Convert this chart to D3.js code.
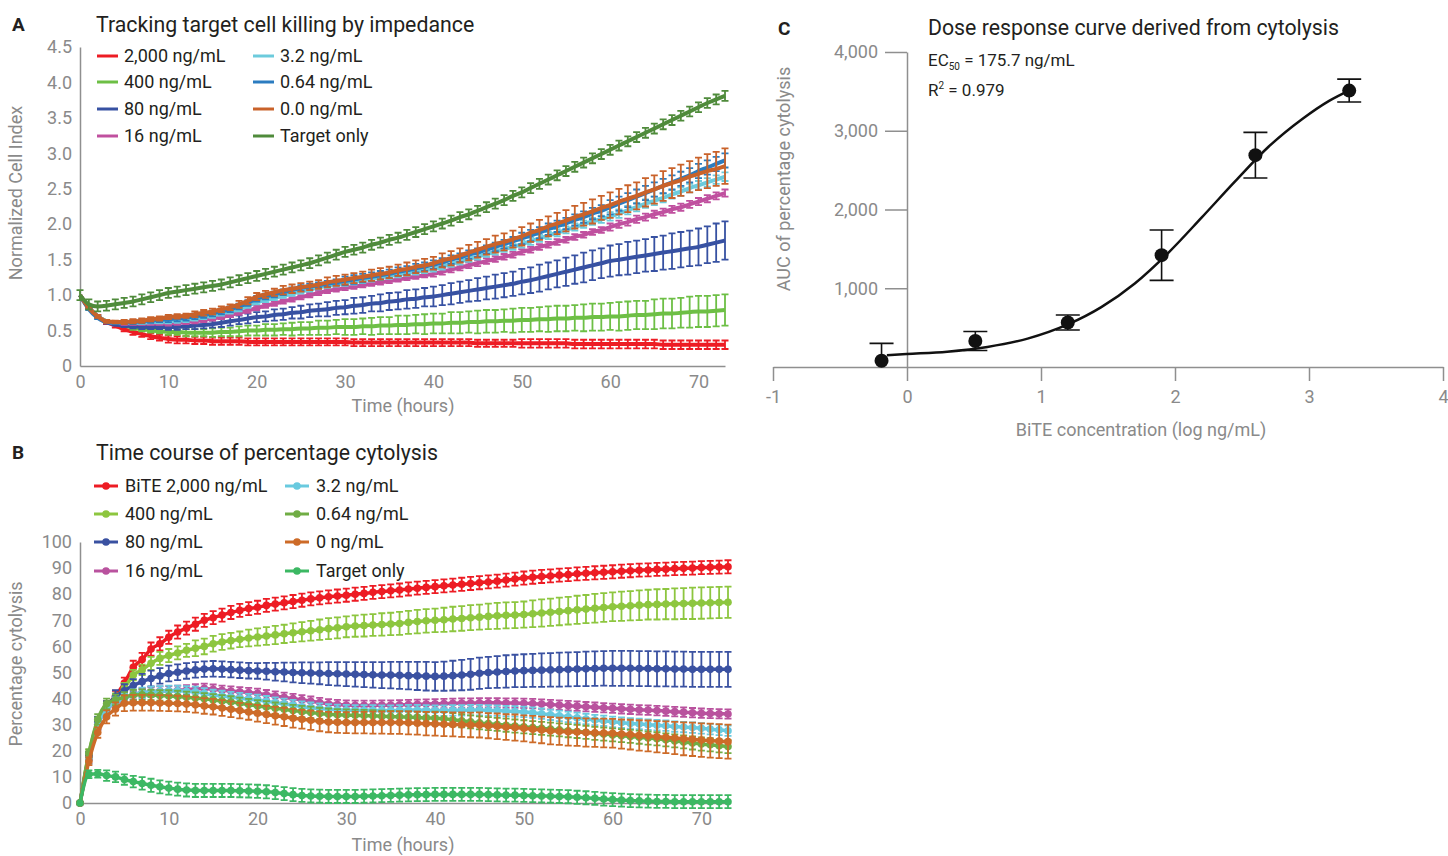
<!DOCTYPE html>
<meta charset="utf-8">
<head>
    <title>BiTE cytolysis panels</title>
    <style>
      body { margin: 0; background: #fff; }
      text { font-family: Roboto, "Noto Sans", sans-serif; }
    </style>
</head>
<!-- Load d3.js -->
<script src="https://d3js.org/d3.v7.min.js"></script>

<div id="my_dataviz"></div>
<script>

// ---------- data ----------
// time points in hours (shared by panel A and B)
var hours = [0,1,2,3,4,5,6,7,8,9,
  10,11,12,13,14,15,16,17,18,19,
  20,21,22,23,24,25,26,27,28,29,
  30,31,32,33,34,35,36,37,38,39,
  40,41,42,43,44,45,46,47,48,49,
  50,51,52,53,54,55,56,57,58,59,
  60,61,62,63,64,65,66,67,68,69,
  70,71,72,73];

// panel A : normalized cell index
var labelsA = ["2,000 ng/mL","400 ng/mL","80 ng/mL","16 ng/mL","3.2 ng/mL","0.64 ng/mL","0.0 ng/mL","Target only"];
var ciA2000 = [1.00,0.82,0.70,0.62,0.57,0.52,0.48,0.45,0.42,0.40,
  0.38,0.37,0.37,0.36,0.36,0.35,0.35,0.35,0.35,0.34,
  0.34,0.34,0.34,0.34,0.34,0.34,0.34,0.34,0.34,0.34,
  0.34,0.33,0.33,0.33,0.33,0.33,0.33,0.33,0.33,0.33,
  0.33,0.33,0.33,0.33,0.33,0.32,0.32,0.32,0.32,0.32,
  0.32,0.32,0.32,0.32,0.32,0.32,0.31,0.31,0.31,0.31,
  0.31,0.31,0.31,0.31,0.31,0.31,0.30,0.30,0.30,0.30,
  0.30,0.30,0.30,0.30];
var ciA400 = [1.00,0.82,0.70,0.63,0.60,0.57,0.54,0.52,0.50,0.49,
  0.48,0.48,0.47,0.47,0.47,0.47,0.48,0.48,0.49,0.50,
  0.50,0.51,0.51,0.52,0.52,0.53,0.53,0.54,0.54,0.55,
  0.55,0.55,0.56,0.56,0.57,0.57,0.58,0.58,0.59,0.59,
  0.60,0.60,0.61,0.61,0.62,0.62,0.63,0.63,0.64,0.64,
  0.65,0.65,0.66,0.66,0.67,0.67,0.68,0.68,0.69,0.69,
  0.70,0.70,0.71,0.72,0.72,0.73,0.74,0.74,0.75,0.76,
  0.77,0.77,0.78,0.79];
var ciA80 = [1.00,0.82,0.70,0.62,0.59,0.57,0.56,0.55,0.55,0.55,
  0.55,0.55,0.56,0.57,0.58,0.59,0.61,0.63,0.65,0.67,
  0.69,0.70,0.72,0.73,0.75,0.76,0.78,0.79,0.80,0.82,
  0.83,0.85,0.86,0.88,0.89,0.91,0.92,0.94,0.95,0.97,
  0.98,1.00,1.02,1.04,1.06,1.08,1.10,1.12,1.14,1.16,
  1.19,1.21,1.24,1.27,1.30,1.33,1.36,1.39,1.42,1.45,
  1.48,1.50,1.52,1.54,1.56,1.58,1.60,1.62,1.64,1.66,
  1.68,1.71,1.74,1.77];
var ciA16 = [1.00,0.82,0.70,0.63,0.61,0.60,0.60,0.60,0.60,0.60,
  0.60,0.61,0.62,0.63,0.65,0.67,0.69,0.72,0.75,0.78,
  0.82,0.85,0.88,0.91,0.94,0.97,1.00,1.03,1.06,1.08,
  1.10,1.12,1.14,1.16,1.18,1.20,1.22,1.24,1.26,1.28,
  1.30,1.33,1.36,1.39,1.42,1.45,1.48,1.51,1.54,1.57,
  1.61,1.64,1.68,1.71,1.75,1.78,1.82,1.85,1.89,1.92,
  1.96,2.00,2.03,2.07,2.10,2.14,2.17,2.21,2.24,2.28,
  2.32,2.36,2.40,2.44];
var ciA3 = [1.00,0.82,0.70,0.63,0.61,0.61,0.61,0.61,0.62,0.62,
  0.63,0.64,0.65,0.67,0.69,0.71,0.74,0.77,0.80,0.85,
  0.90,0.93,0.96,0.99,1.02,1.05,1.08,1.11,1.13,1.15,
  1.17,1.19,1.21,1.23,1.25,1.27,1.29,1.31,1.33,1.35,
  1.37,1.40,1.44,1.47,1.51,1.54,1.58,1.61,1.65,1.68,
  1.72,1.76,1.80,1.84,1.88,1.92,1.96,2.00,2.04,2.07,
  2.11,2.15,2.20,2.24,2.29,2.33,2.37,2.42,2.46,2.51,
  2.55,2.59,2.63,2.67];
var ciA064 = [1.00,0.80,0.68,0.62,0.61,0.61,0.62,0.63,0.64,0.65,
  0.66,0.67,0.68,0.70,0.72,0.74,0.77,0.80,0.84,0.89,
  0.95,0.98,1.01,1.04,1.07,1.10,1.12,1.14,1.16,1.18,
  1.20,1.22,1.24,1.26,1.28,1.30,1.33,1.35,1.38,1.40,
  1.43,1.46,1.50,1.53,1.57,1.60,1.64,1.68,1.72,1.76,
  1.80,1.84,1.88,1.93,1.97,2.01,2.06,2.10,2.15,2.19,
  2.24,2.29,2.34,2.39,2.44,2.49,2.54,2.59,2.64,2.69,
  2.75,2.80,2.85,2.90];
var ciA0 = [1.00,0.82,0.70,0.63,0.62,0.62,0.63,0.64,0.66,0.67,
  0.69,0.70,0.71,0.73,0.75,0.77,0.80,0.83,0.87,0.92,
  0.98,1.01,1.04,1.07,1.09,1.11,1.13,1.15,1.18,1.20,
  1.22,1.24,1.26,1.28,1.30,1.32,1.35,1.37,1.40,1.42,
  1.45,1.49,1.52,1.56,1.60,1.64,1.68,1.72,1.75,1.79,
  1.83,1.88,1.92,1.97,2.01,2.05,2.10,2.14,2.18,2.23,
  2.27,2.32,2.36,2.40,2.45,2.49,2.54,2.58,2.62,2.67,
  2.71,2.75,2.78,2.82];
var ciATarget = [1.00,0.87,0.84,0.85,0.87,0.89,0.91,0.94,0.97,1.00,
  1.03,1.05,1.07,1.09,1.11,1.13,1.15,1.18,1.21,1.24,
  1.27,1.30,1.33,1.36,1.39,1.42,1.45,1.49,1.53,1.57,
  1.61,1.64,1.67,1.71,1.74,1.78,1.81,1.85,1.89,1.93,
  1.97,2.01,2.05,2.10,2.14,2.19,2.24,2.29,2.34,2.40,
  2.45,2.51,2.57,2.63,2.69,2.75,2.81,2.87,2.93,2.99,
  3.05,3.11,3.17,3.23,3.29,3.35,3.41,3.47,3.53,3.59,
  3.65,3.71,3.76,3.81];

// panel A : error (half width)
var errA2000 = [0.00,0.02,0.02,0.03,0.03,0.03,0.04,0.04,0.04,0.04,
  0.05,0.05,0.05,0.05,0.05,0.05,0.05,0.05,0.05,0.05,
  0.05,0.05,0.05,0.05,0.05,0.05,0.05,0.05,0.05,0.05,
  0.05,0.05,0.05,0.05,0.05,0.05,0.05,0.05,0.05,0.05,
  0.05,0.05,0.05,0.05,0.05,0.05,0.05,0.05,0.05,0.05,
  0.06,0.06,0.06,0.06,0.06,0.06,0.06,0.06,0.06,0.06,
  0.06,0.06,0.06,0.06,0.06,0.06,0.06,0.06,0.06,0.06,
  0.06,0.06,0.06,0.06];
var errA400 = [0.00,0.01,0.01,0.02,0.02,0.02,0.03,0.03,0.03,0.03,
  0.04,0.04,0.05,0.05,0.05,0.06,0.06,0.06,0.07,0.07,
  0.07,0.08,0.08,0.08,0.09,0.09,0.09,0.10,0.10,0.10,
  0.11,0.11,0.11,0.12,0.12,0.12,0.13,0.13,0.13,0.14,
  0.14,0.14,0.15,0.15,0.15,0.16,0.16,0.16,0.16,0.17,
  0.17,0.17,0.17,0.18,0.18,0.18,0.18,0.19,0.19,0.19,
  0.19,0.20,0.20,0.20,0.20,0.21,0.21,0.21,0.21,0.22,
  0.22,0.22,0.22,0.22];
var errA80 = [0.00,0.01,0.01,0.02,0.02,0.02,0.03,0.03,0.03,0.03,
  0.04,0.04,0.04,0.05,0.05,0.05,0.06,0.06,0.06,0.07,
  0.07,0.07,0.08,0.08,0.08,0.09,0.09,0.09,0.10,0.10,
  0.10,0.11,0.11,0.11,0.12,0.12,0.12,0.13,0.13,0.13,
  0.14,0.14,0.15,0.15,0.15,0.16,0.16,0.17,0.17,0.17,
  0.18,0.18,0.19,0.19,0.19,0.20,0.20,0.21,0.21,0.21,
  0.22,0.22,0.23,0.23,0.23,0.24,0.24,0.25,0.25,0.25,
  0.26,0.26,0.27,0.27];
var errA16 = [0.00,0.01,0.02,0.02,0.02,0.02,0.02,0.02,0.02,0.02,
  0.03,0.03,0.03,0.03,0.03,0.03,0.03,0.03,0.03,0.03,
  0.03,0.03,0.03,0.03,0.03,0.03,0.03,0.03,0.03,0.03,
  0.03,0.03,0.03,0.03,0.03,0.03,0.03,0.03,0.03,0.03,
  0.04,0.04,0.04,0.04,0.04,0.04,0.04,0.04,0.04,0.04,
  0.04,0.04,0.04,0.04,0.04,0.04,0.04,0.04,0.04,0.04,
  0.05,0.05,0.05,0.05,0.05,0.05,0.05,0.05,0.05,0.05,
  0.05,0.05,0.05,0.05];
var errA3 = [0.00,0.01,0.02,0.02,0.02,0.02,0.02,0.02,0.02,0.02,
  0.03,0.03,0.03,0.03,0.03,0.03,0.03,0.03,0.03,0.03,
  0.03,0.03,0.03,0.03,0.03,0.03,0.03,0.03,0.03,0.03,
  0.04,0.04,0.04,0.04,0.04,0.04,0.04,0.04,0.04,0.04,
  0.04,0.04,0.04,0.04,0.04,0.04,0.04,0.04,0.04,0.04,
  0.05,0.05,0.05,0.05,0.05,0.05,0.05,0.05,0.05,0.05,
  0.06,0.06,0.06,0.06,0.06,0.06,0.06,0.06,0.06,0.06,
  0.06,0.06,0.06,0.06];
var errA064 = [0.00,0.01,0.02,0.02,0.02,0.02,0.03,0.03,0.03,0.03,
  0.04,0.04,0.04,0.04,0.04,0.04,0.04,0.04,0.04,0.04,
  0.04,0.04,0.04,0.04,0.04,0.04,0.04,0.04,0.04,0.04,
  0.06,0.06,0.06,0.06,0.06,0.06,0.06,0.06,0.06,0.06,
  0.06,0.06,0.06,0.06,0.06,0.06,0.06,0.06,0.06,0.06,
  0.08,0.08,0.08,0.08,0.08,0.08,0.08,0.08,0.08,0.08,
  0.10,0.10,0.10,0.10,0.10,0.10,0.10,0.10,0.10,0.10,
  0.10,0.10,0.10,0.10];
var errA0 = [0.00,0.01,0.02,0.02,0.02,0.03,0.03,0.03,0.03,0.03,
  0.03,0.03,0.03,0.04,0.04,0.04,0.04,0.04,0.05,0.05,
  0.05,0.05,0.05,0.06,0.06,0.06,0.06,0.06,0.07,0.07,
  0.07,0.07,0.07,0.08,0.08,0.08,0.08,0.09,0.09,0.09,
  0.09,0.10,0.10,0.10,0.11,0.11,0.11,0.12,0.12,0.12,
  0.13,0.13,0.14,0.14,0.15,0.15,0.16,0.16,0.17,0.17,
  0.18,0.18,0.19,0.19,0.20,0.20,0.21,0.21,0.22,0.22,
  0.23,0.24,0.24,0.25];
var errATarget = [0.07,0.07,0.07,0.07,0.07,0.07,0.07,0.07,0.07,0.07,
  0.07,0.07,0.07,0.07,0.07,0.07,0.07,0.07,0.07,0.07,
  0.07,0.07,0.07,0.07,0.07,0.07,0.07,0.07,0.07,0.07,
  0.07,0.07,0.07,0.07,0.07,0.07,0.07,0.07,0.07,0.07,
  0.07,0.07,0.07,0.07,0.07,0.07,0.07,0.07,0.07,0.07,
  0.07,0.07,0.07,0.07,0.07,0.07,0.07,0.07,0.07,0.07,
  0.07,0.07,0.07,0.07,0.07,0.07,0.07,0.07,0.07,0.07,
  0.07,0.07,0.07,0.07];

// panel B : percentage cytolysis
var labelsB = ["BiTE 2,000 ng/mL","400 ng/mL","80 ng/mL","16 ng/mL","3.2 ng/mL","0.64 ng/mL","0 ng/mL","Target only"];
var cyB2000 = [0,18,30,37,41,46,52,55,59,61,
  63.5,65.5,67,68.5,70,71,72,73,73.8,74.5,
  75,75.7,76.2,76.7,77.2,77.7,78.2,78.6,79,79.3,
  79.6,80,80.3,80.7,81,81.3,81.6,82,82.3,82.6,
  82.9,83.2,83.5,83.8,84.1,84.4,84.7,85,85.4,85.8,
  86.2,86.5,86.8,87,87.3,87.5,87.8,88,88.2,88.4,
  88.6,88.8,89,89.2,89.3,89.5,89.6,89.8,89.9,90,
  90.2,90.3,90.4,90.5];
var cyB400 = [0,19,31,37,40,44,49,51,53.5,55.4,
  56.5,57.5,58.5,59.3,60,61,61.7,62.2,62.7,63.2,
  63.6,64,64.4,64.8,65.2,65.6,66,66.4,66.8,67.1,
  67.5,67.8,68,68.2,68.4,68.6,68.8,69.2,69.5,69.8,
  70,70.2,70.5,70.7,71,71.2,71.5,71.7,71.9,72,
  72.2,72.5,72.8,73.1,73.4,73.7,74,74.3,74.6,74.9,
  75.2,75.4,75.6,75.8,76,76.1,76.2,76.3,76.4,76.5,
  76.6,76.7,76.8,76.9];
var cyB80 = [0,18,31,37,40.7,43,45,46.5,47.7,48.7,
  49.6,50.1,50.6,51,51.3,51.4,51.3,51.1,50.9,50.7,
  50.6,50.5,50.3,50.2,50,49.9,49.8,49.7,49.6,49.5,
  49.4,49.3,49.2,49.1,49,49,48.9,48.8,48.7,48.6,
  48.5,48.6,48.8,49,49.3,49.7,50,50.2,50.4,50.6,
  50.7,50.8,50.9,51,51.1,51.2,51.3,51.4,51.5,51.6,
  51.6,51.6,51.6,51.5,51.5,51.4,51.4,51.3,51.3,51.2,
  51.2,51.2,51.2,51.2];
var cyB16 = [0,17,30,36,38,40,41.5,42.2,42.6,42.9,
  43,43.2,43.4,43.7,43.9,43.6,43.2,42.9,42.6,42.3,
  42,41.5,41,40.5,40,39.5,39,38.5,38,37.7,
  37.5,37.4,37.4,37.4,37.5,37.5,37.6,37.7,37.8,37.9,
  38,38.1,38.2,38.3,38.3,38.4,38.4,38.4,38.3,38.3,
  38.2,38.1,37.9,37.7,37.5,37.3,37.1,36.9,36.7,36.5,
  36.3,36.1,35.9,35.7,35.6,35.4,35.2,35,34.8,34.6,
  34.4,34.3,34.2,34.1];
var cyB3 = [0,17,30,36,38.5,40,41.5,42.2,42.6,42.8,
  43,43,42.8,42.6,42,41.4,41,40.6,40.2,39.8,
  39.5,39,38.5,38,37.5,36.9,36.5,36.2,35.9,35.7,
  35.6,35.5,35.5,35.5,35.4,35.4,35.5,35.6,35.6,35.5,
  35.4,35.4,35.5,35.5,35.6,35.6,35.5,35.4,35.2,35.1,
  34.9,34.6,34.2,33.8,33.4,33,32.6,32.2,31.8,31.5,
  31.1,30.8,30.5,30.3,30,29.8,29.6,29.3,29.1,28.9,
  28.6,28.3,28,27.7];
var cyB064 = [0,19,32,38,39.5,40.5,41.4,41.5,41.4,41.2,
  41,40.8,40.5,40.2,39.9,39.5,39.1,38.7,38.2,37.7,
  37.2,36.8,36.3,35.9,35.4,35,34.7,34.3,34,33.8,
  33.7,33.6,33.5,33.4,33.2,33.1,33,32.9,32.8,32.6,
  32.5,32.3,31.9,31.5,31.1,30.7,30.4,30.1,29.8,29.5,
  29.2,28.9,28.6,28.3,28,27.7,27.4,27.1,26.7,26.4,
  26.1,25.8,25.5,25.2,24.9,24.6,24.2,23.8,23.4,23,
  22.6,22.3,21.9,21.6];
var cyB0 = [0,16,27,33,36,38.2,38.4,38.4,38.4,38.3,
  38.2,38.1,37.9,37.6,37.2,36.9,36.4,35.9,35.4,34.9,
  34.4,33.9,33.4,33,32.5,32.1,31.7,31.3,31,30.9,
  30.8,30.8,30.8,30.8,30.8,30.8,30.8,30.7,30.6,30.4,
  30.3,30.2,30.1,30,29.9,29.9,29.6,29.4,29.1,28.9,
  28.6,28.3,28,27.7,27.5,27.3,27.2,27,26.9,26.8,
  26.7,26.4,26.2,25.9,25.7,25.4,25.2,24.9,24.6,24.4,
  24.1,23.9,23.7,23.5];
var cyBTarget = [0,11,11.2,10.5,10,9,8.2,7.5,6.8,6.2,
  5.7,5.3,5,4.8,4.8,4.8,4.8,4.8,4.7,4.6,
  4.5,4.3,4,3.6,3.2,2.9,2.7,2.6,2.5,2.5,
  2.5,2.5,2.6,2.7,2.8,2.9,3,3.1,3.2,3.2,
  3.3,3.3,3.3,3.3,3.3,3.3,3.2,3.1,3,3,
  2.9,2.8,2.7,2.6,2.5,2.4,2.2,2,1.8,1.5,
  1.3,1.1,0.9,0.8,0.7,0.6,0.6,0.5,0.5,0.5,
  0.5,0.5,0.5,0.5];

// panel B : error (half width)
var errB2000 = [0,1.5,2,2,2,2,2.5,2.5,2.5,2.5,
  2.5,2.5,2.5,2.5,2.5,2.5,2.5,2.5,2.5,2.5,
  2.5,2.5,2.5,2.5,2.5,2.5,2.5,2.5,2.5,2.5,
  2.5,2.5,2.5,2.5,2.5,2.5,2.5,2.5,2.5,2.5,
  2.5,2.5,2.5,2.5,2.5,2.5,2.5,2.5,2.5,2.5,
  2.5,2.5,2.5,2.5,2.5,2.5,2.5,2.5,2.5,2.5,
  2.5,2.5,2.5,2.5,2.5,2.5,2.5,2.5,2.5,2.5,
  2.5,2.5,2.5,2.5];
var errB400 = [0,1.5,2,2,2,2,2,2,2.5,2.5,
  2.5,2.5,2.5,3,3,3,3,3,3,3.2,
  3.3,3.4,3.5,3.5,3.6,3.7,3.8,3.9,4,4,
  4,4.1,4.2,4.2,4.3,4.3,4.4,4.4,4.5,4.5,
  4.5,4.6,4.7,4.7,4.8,4.8,4.9,5,5,5,
  5,5.1,5.2,5.2,5.3,5.3,5.4,5.4,5.5,5.5,
  5.5,5.6,5.6,5.7,5.7,5.8,5.8,5.9,5.9,6,
  6,6,6,6];
var errB80 = [0,1.5,2,2,2.5,2.5,2.5,3,3,3,
  3,3,3,3,3,3,3,3,3,3,
  3,3.2,3.4,3.6,3.8,4,4.1,4.2,4.4,4.5,
  4.6,4.7,4.8,4.9,5,5.1,5.2,5.3,5.4,5.5,
  5.5,5.6,5.7,5.8,5.9,6,6,6.1,6.2,6.2,
  6.3,6.3,6.4,6.4,6.5,6.5,6.5,6.6,6.6,6.6,
  6.7,6.7,6.7,6.7,6.7,6.7,6.7,6.7,6.7,6.7,
  6.7,6.7,6.7,6.7];
var errB16 = [0,1.8,1.8,1.8,1.8,1.8,1.8,1.8,1.8,1.8,
  1.8,1.8,1.8,1.8,1.8,1.8,1.8,1.8,1.8,1.8,
  1.8,1.8,1.8,1.8,1.8,1.8,1.8,1.8,1.8,1.8,
  1.8,1.8,1.8,1.8,1.8,1.8,1.8,1.8,1.8,1.8,
  1.8,1.8,1.8,1.8,1.8,1.8,1.8,1.8,1.8,1.8,
  1.8,1.8,1.8,1.8,1.8,1.8,1.8,1.8,1.8,1.8,
  1.8,1.8,1.8,1.8,1.8,1.8,1.8,1.8,1.8,1.8,
  1.8,1.8,1.8,1.8];
var errB3 = [0,2,2,2,2,2,2,2,2,2,
  2,2,2,2,2,2,2,2,2,2,
  2,2,2,2,2,2,2,2,2,2,
  2,2,2,2,2,2,2,2,2,2,
  2,2,2,2,2,2,2,2,2,2,
  2,2,2,2,2,2,2,2,2,2,
  2,2,2,2,2,2,2,2,2,2,
  2,2,2,2];
var errB064 = [0,1.5,2,2,2,2,2,2,2,2,
  2.2,2.2,2.2,2.2,2.2,2.2,2.2,2.2,2.2,2.2,
  2.2,2.2,2.2,2.2,2.2,2.2,2.2,2.2,2.2,2.2,
  2.2,2.2,2.2,2.2,2.2,2.2,2.2,2.2,2.2,2.2,
  2.5,2.5,2.5,2.5,2.5,2.5,2.5,2.5,2.5,2.5,
  2.5,2.5,2.5,2.5,2.5,2.5,2.5,2.5,2.5,2.5,
  2.5,2.5,2.5,2.5,2.5,2.5,2.5,2.5,2.5,2.5,
  2.5,2.5,2.5,2.5];
var errB0 = [0,1.5,2,2.5,2.5,3,3,3,3,3,
  3,3,3,3,3,3,3,3,3,3,
  3.2,3.3,3.4,3.5,3.6,3.6,3.7,3.8,3.9,4,
  4,4.1,4.1,4.2,4.2,4.3,4.3,4.4,4.4,4.5,
  4.5,4.6,4.6,4.7,4.7,4.8,4.8,4.9,4.9,5,
  5,5.1,5.1,5.2,5.2,5.3,5.3,5.4,5.4,5.5,
  5.5,5.6,5.7,5.8,5.9,6,6.1,6.2,6.3,6.4,
  6.4,6.5,6.5,6.5];
var errBTarget = [0,1.5,1.5,2,2,2,2.2,2.4,2.5,2.5,
  2.5,2.5,2.5,2.5,2.5,2.5,2.5,2.5,2.5,2.5,
  2.5,2.5,2.5,2.5,2.5,2.5,2.5,2.5,2.5,2.5,
  2.5,2.5,2.5,2.5,2.5,2.5,2.5,2.5,2.5,2.5,
  2.5,2.5,2.5,2.5,2.5,2.5,2.5,2.5,2.5,2.5,
  2.5,2.5,2.5,2.5,2.5,2.5,2.5,2.5,2.5,2.5,
  2.5,2.5,2.5,2.5,2.5,2.5,2.5,2.5,2.5,2.5,
  2.5,2.5,2.5,2.5];

// panel C : dose response
var logConc = [-0.19, 0.51, 1.2, 1.9, 2.6, 3.3];
var aucMean = [80, 330, 565, 1420, 2690, 3510];
var aucErr = [220, 120, 95, 320, 290, 145];
// fitted curve
var fitLog = [-0.15, 0, 0.3, 0.6, 0.9, 1.2, 1.45, 1.7, 1.95, 2.2, 2.45, 2.7, 2.95, 3.15, 3.31];
var fitAuc = [150, 165, 195, 255, 360, 540, 760, 1060, 1450, 1900, 2360, 2800, 3150, 3380, 3520];

var ticksA = [0, 0.5, 1, 1.5, 2, 2.5, 3, 3.5, 4, 4.5];
var ticksB = [0, 10, 20, 30, 40, 50, 60, 70, 80, 90, 100];
var ticksTime = [0, 10, 20, 30, 40, 50, 60, 70];
var ticksCx = [-1, 0, 1, 2, 3, 4];
var ticksCy = [1000, 2000, 3000, 4000];

// ---------- styles ----------
var colorsA = ["#ed1c24","#6dbf45","#3751a2","#c0509f","#6ccbdc","#2b7cc0","#c9622a","#4f8b3b"];
var colorsB = ["#ed1c24","#8dc63f","#3a51a1","#b9529e","#69cadf","#70ad45","#cd6b28","#3cb863"];
var axisColor = "#8f8f8f",
    tickText = "#8a8a8a",
    darkText = "#231f20";

var svg = d3.select("#my_dataviz")
  .append("svg")
    .attr("width", 1448)
    .attr("height", 856);

function styleAxis(g) {
  g.select(".domain").attr("stroke", axisColor).attr("stroke-width", 1.5);
  g.selectAll(".tick line").attr("stroke", axisColor).attr("stroke-width", 1.5);
  g.selectAll(".tick text").attr("fill", tickText).style("font-size", "18px")
    .style("font-family", "Roboto, sans-serif");
}

function drawSeries(g, xScale, yScale, vals, errs, color, opt) {
  var pts = hours.map(function(h, i) { return {t: h, v: vals[i], e: errs[i]}; });
  var s = g.append("g");
  s.selectAll("path.err")
    .data(pts.filter(function(d) { return d.e > 0; }))
    .join("path")
      .attr("class", "err")
      .attr("d", function(d) {
        var x = xScale(d.t), y1 = yScale(d.v + d.e), y2 = yScale(d.v - d.e), c = opt.cap;
        return "M" + (x - c) + "," + y1 + "H" + (x + c) +
               "M" + x + "," + y1 + "V" + y2 +
               "M" + (x - c) + "," + y2 + "H" + (x + c);
      })
      .attr("stroke", color)
      .attr("stroke-width", 1.8)
      .attr("fill", "none");
  var line = d3.line()
    .x(function(d) { return xScale(d.t); })
    .y(function(d) { return yScale(d.v); })
    .curve(d3.curveMonotoneX);
  s.append("path")
    .datum(pts)
    .attr("d", line)
    .attr("stroke", color)
    .attr("stroke-width", opt.lineW)
    .attr("stroke-linejoin", "round")
    .attr("fill", "none");
  if (opt.dotR) {
    s.selectAll("circle")
      .data(pts)
      .join("circle")
        .attr("cx", function(d) { return xScale(d.t); })
        .attr("cy", function(d) { return yScale(d.v); })
        .attr("r", opt.dotR)
        .attr("fill", color);
  }
}

function label(x, y, txt, size, color, weight, anchor) {
  return svg.append("text")
    .attr("x", x).attr("y", y)
    .attr("fill", color)
    .attr("text-anchor", anchor || "start")
    .style("font-size", size + "px")
    .style("font-weight", weight || "normal")
    .text(txt);
}

// ================= panel A =================
var xA = d3.scaleLinear().domain([0, 73]).range([80, 725]);
var yA = d3.scaleLinear().domain([0, 4.5]).range([366, 47]);

svg.append("g")
    .attr("transform", "translate(80,0)")
    .call(d3.axisLeft(yA).tickValues(ticksA).tickSize(0).tickPadding(8)
      .tickFormat(function(d) { return d === 0 ? "0" : d3.format(".1f")(d); }))
    .call(styleAxis);
svg.append("g")
    .attr("transform", "translate(0,366)")
    .call(d3.axisBottom(xA).tickValues(ticksTime).tickSize(0).tickPadding(9))
    .call(styleAxis);

var seriesA = [ciA2000, ciA400, ciA80, ciA16, ciA3, ciA064, ciA0, ciATarget];
var errsA = [errA2000, errA400, errA80, errA16, errA3, errA064, errA0, errATarget];
var gA = svg.append("g");
seriesA.forEach(function(vals, k) {
  drawSeries(gA, xA, yA, vals, errsA[k], colorsA[k], {cap: 3.5, lineW: 4});
});

label(12, 31, "A", 19, darkText, "bold");
label(96, 32, "Tracking target cell killing by impedance", 21.3, darkText);
label(403, 412, "Time (hours)", 18, tickText, "normal", "middle");
svg.append("text")
    .attr("transform", "translate(22,193) rotate(-90)")
    .attr("text-anchor", "middle")
    .attr("fill", tickText)
    .style("font-size", "18px")
    .text("Normalized Cell Index");

// legend A
var legA = svg.append("g");
labelsA.forEach(function(name, k) {
  var lx = k < 4 ? 97 : 253, ly = [56, 82, 109, 136][k % 4];
  legA.append("line")
    .attr("x1", lx).attr("x2", lx + 21).attr("y1", ly).attr("y2", ly)
    .attr("stroke", colorsA[k]).attr("stroke-width", 3);
  legA.append("text")
    .attr("x", lx + 27).attr("y", ly).attr("dy", "0.35em")
    .attr("fill", darkText)
    .style("font-size", "18px")
    .text(name);
});

// ================= panel B =================
var xB = d3.scaleLinear().domain([0, 73]).range([80, 728]);
var yB = d3.scaleLinear().domain([0, 100]).range([803, 542]);

svg.append("g")
    .attr("transform", "translate(80,0)")
    .call(d3.axisLeft(yB).tickValues(ticksB).tickSize(0).tickPadding(8))
    .call(styleAxis);
svg.append("g")
    .attr("transform", "translate(0,803)")
    .call(d3.axisBottom(xB).tickValues(ticksTime).tickSize(0).tickPadding(9))
    .call(styleAxis);

var seriesB = [cyB2000, cyB400, cyB80, cyB16, cyB3, cyB064, cyB0, cyBTarget];
var errsB = [errB2000, errB400, errB80, errB16, errB3, errB064, errB0, errBTarget];
var gB = svg.append("g");
seriesB.forEach(function(vals, k) {
  drawSeries(gB, xB, yB, vals, errsB[k], colorsB[k], {cap: 3.5, lineW: 3.5, dotR: 3.8});
});

label(12, 459, "B", 19, darkText, "bold");
label(96, 460, "Time course of percentage cytolysis", 21.3, darkText);
label(403, 851, "Time (hours)", 18, tickText, "normal", "middle");
svg.append("text")
    .attr("transform", "translate(22,664) rotate(-90)")
    .attr("text-anchor", "middle")
    .attr("fill", tickText)
    .style("font-size", "18px")
    .text("Percentage cytolysis");

// legend B
var legB = svg.append("g");
labelsB.forEach(function(name, k) {
  var lx = k < 4 ? 94 : 285, ly = [486, 514, 542, 571][k % 4];
  legB.append("line")
    .attr("x1", lx).attr("x2", lx + 24).attr("y1", ly).attr("y2", ly)
    .attr("stroke", colorsB[k]).attr("stroke-width", 3);
  legB.append("circle")
    .attr("cx", lx + 12).attr("cy", ly).attr("r", 3.8)
    .attr("fill", colorsB[k]);
  legB.append("text")
    .attr("x", lx + 31).attr("y", ly).attr("dy", "0.35em")
    .attr("fill", darkText)
    .style("font-size", "18px")
    .text(name);
});

// ================= panel C =================
var xC = d3.scaleLinear().domain([-1, 4]).range([773, 1443]);
var yC = d3.scaleLinear().domain([0, 4000]).range([367, 52]);

svg.append("g")
    .attr("transform", "translate(" + xC(0) + ",0)")
    .call(d3.axisLeft(yC).tickValues(ticksCy).tickSize(22).tickSizeOuter(0).tickPadding(7)
      .tickFormat(d3.format(",")))
    .call(styleAxis);
svg.append("g")
    .attr("transform", "translate(0," + yC(0) + ")")
    .call(d3.axisBottom(xC).tickValues(ticksCx).tickSize(14).tickSizeOuter(0).tickPadding(9)
      .tickFormat(function(d) { return String(d); }))
    .call(styleAxis);

// fitted curve
var fitPts = fitLog.map(function(x, i) { return {x: x, y: fitAuc[i]}; });
svg.append("path")
    .datum(fitPts)
    .attr("d", d3.line()
      .x(function(d) { return xC(d.x); })
      .y(function(d) { return yC(d.y); })
      .curve(d3.curveMonotoneX))
    .attr("stroke", "#111")
    .attr("stroke-width", 2.5)
    .attr("fill", "none");

// error bars and points
var dosePts = logConc.map(function(x, i) { return {x: x, y: aucMean[i], e: aucErr[i]}; });
svg.append("g").selectAll("path")
  .data(dosePts)
  .join("path")
    .attr("d", function(d) {
      var x = xC(d.x), c = 12;
      var top = yC(d.y + d.e), lo = d.y - d.e;
      var p = "M" + (x - c) + "," + top + "H" + (x + c) + "M" + x + "," + top;
      if (lo > 0) {
        p += "V" + yC(lo) + "M" + (x - c) + "," + yC(lo) + "H" + (x + c);
      } else {
        p += "V" + yC(0);
      }
      return p;
    })
    .attr("stroke", "#111")
    .attr("stroke-width", 1.6)
    .attr("fill", "none");
svg.append("g").selectAll("circle")
  .data(dosePts)
  .join("circle")
    .attr("cx", function(d) { return xC(d.x); })
    .attr("cy", function(d) { return yC(d.y); })
    .attr("r", 7)
    .attr("fill", "#111");

label(778, 35, "C", 19, darkText, "bold");
label(928, 35, "Dose response curve derived from cytolysis", 21.3, darkText);
label(1141, 436, "BiTE concentration (log ng/mL)", 18, tickText, "normal", "middle");
svg.append("text")
    .attr("transform", "translate(790,179) rotate(-90)")
    .attr("text-anchor", "middle")
    .attr("fill", tickText)
    .style("font-size", "18px")
    .text("AUC of percentage cytolysis");

var ec = svg.append("text").attr("x", 928).attr("y", 66).attr("fill", darkText).style("font-size", "17px");
ec.append("tspan").text("EC");
ec.append("tspan").attr("dy", 4).style("font-size", "10px").text("50");
ec.append("tspan").attr("dy", -4).text(" = 175.7 ng/mL");
var r2 = svg.append("text").attr("x", 928).attr("y", 96).attr("fill", darkText).style("font-size", "17px");
r2.append("tspan").text("R");
r2.append("tspan").attr("dy", -7).style("font-size", "10px").text("2");
r2.append("tspan").attr("dy", 7).text(" = 0.979");

</script>
